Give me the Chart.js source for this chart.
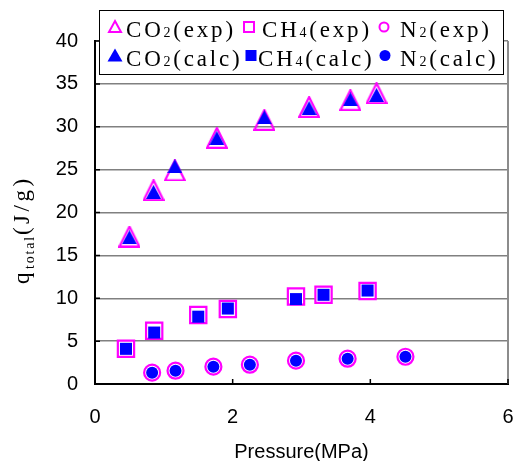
<!DOCTYPE html>
<html>
<head>
<meta charset="utf-8">
<script src="https://cdn.jsdelivr.net/npm/chart.js@4.4.0/dist/chart.umd.min.js"></script>
<style>
html, body { margin: 0; padding: 0; background: #fff; }
</style>
</head>
<body>
<canvas id="canvas-chart" width="513" height="461"></canvas>
<script>
// pressure (MPa) and heat q_total (J/g)
const co2_p = [0.50, 0.85, 1.16, 1.77, 2.46, 3.11, 3.71, 4.09];
const co2_exp = [17.2, 22.6, 24.9, 28.7, 30.8, 32.3, 33.1, 33.9];
const co2_calc = [17.1, 22.4, 25.4, 28.7, 31.1, 32.2, 33.2, 33.7];

const ch4_p = [0.45, 0.86, 1.50, 1.93, 2.92, 3.32, 3.96];
const ch4_exp = [4.1, 6.2, 8.05, 8.75, 10.2, 10.4, 10.85];
const ch4_calc = [4.1, 6.0, 7.85, 8.8, 9.9, 10.4, 10.9];

const n2_p = [0.83, 1.17, 1.72, 2.25, 2.92, 3.67, 4.51];
const n2_exp = [1.32, 1.55, 2.02, 2.25, 2.72, 2.95, 3.18];
const n2_calc = [1.32, 1.55, 2.02, 2.25, 2.72, 2.95, 3.18];

const x_ticks = [0, 2, 4, 6];
const y_ticks = [0, 5, 10, 15, 20, 25, 30, 35, 40];

const gas_names = [['CO', '2'], ['CH', '4'], ['N', '2']];
const kind_names = ['(exp)', '(calc)'];
const x_title = 'Pressure(MPa)';
const y_title = [['q', false], ['total', true], ['(J/g)', false]];

const MAGENTA = '#ff00ff';
const BLUE = '#0000ff';
const SERIF = '"Liberation Serif", "Times New Roman", serif';
const SANS = '"Liberation Sans", Arial, sans-serif';
const PLOT_RIGHT = 508;

function pts(xs, ys) {
    return xs.map((x, i) => ({x: x, y: ys[i]}));
}

// excel-like triangles (centered on the box, not the circumcircle)
function tri_img(w, h, fill, stroke, lw) {
    let c = document.createElement('canvas');
    c.width = w;
    c.height = h;
    let ctx = c.getContext('2d');
    let m = lw / 2;
    ctx.beginPath();
    ctx.moveTo(w / 2, m);
    ctx.lineTo(w - m, h - m);
    ctx.lineTo(m, h - m);
    ctx.closePath();
    if (fill) {
        ctx.fillStyle = fill;
        ctx.fill();
    }
    if (stroke) {
        ctx.strokeStyle = stroke;
        ctx.lineWidth = lw;
        ctx.lineJoin = 'miter';
        ctx.stroke();
    }
    return c;
}

const tri_exp = tri_img(22, 22, null, MAGENTA, 2.2);
const tri_calc = tri_img(15, 14, BLUE, null, 0);

function draw_rich(ctx, parts, x, y, size, sub_size, sub_drop, spacing, sub_spacing) {
    ctx.textAlign = 'left';
    ctx.textBaseline = 'alphabetic';
    for (const [txt, sub] of parts) {
        ctx.font = (sub ? sub_size : size) + 'px ' + SERIF;
        for (const ch of txt) {
            ctx.fillText(ch, x, y + (sub ? sub_drop : 0));
            x += ctx.measureText(ch).width + (sub ? sub_spacing : spacing);
        }
    }
}

function legend_marker(ctx, gas, kind, x, y) {
    ctx.save();
    ctx.lineWidth = 2;
    ctx.strokeStyle = MAGENTA;
    ctx.fillStyle = BLUE;
    if (gas === 0) {
        ctx.beginPath();
        if (kind === 0) {
            ctx.moveTo(x, y - 6); ctx.lineTo(x + 6, y + 5); ctx.lineTo(x - 6, y + 5);
            ctx.closePath(); ctx.stroke();
        } else {
            ctx.moveTo(x, y - 7); ctx.lineTo(x + 7.5, y + 6); ctx.lineTo(x - 7.5, y + 6);
            ctx.closePath(); ctx.fill();
        }
    } else if (gas === 1) {
        if (kind === 0) ctx.strokeRect(x - 5, y - 5, 10, 10);
        else ctx.fillRect(x - 5.5, y - 5.5, 11, 11);
    } else {
        ctx.beginPath();
        ctx.arc(x, y, kind === 0 ? 4.5 : 5.5, 0, Math.PI * 2);
        if (kind === 0) ctx.stroke(); else ctx.fill();
    }
    ctx.restore();
}

const extras = {
    id: 'extras',
    // the layout keeps a margin on the right for the last label; stretch the plot to the frame
    afterLayout(chart) {
        let a = chart.chartArea;
        let xs = chart.scales.x;
        a.right = PLOT_RIGHT;
        a.width = a.right - a.left;
        xs.right = PLOT_RIGHT;
        xs.width = xs.right - xs.left;
        xs.configure();
    },
    beforeDatasetsDraw(chart) {
        let ctx = chart.ctx;
        let a = chart.chartArea;
        let xs = chart.scales.x;
        let ys = chart.scales.y;
        ctx.save();
        // right frame line
        ctx.strokeStyle = '#8c8c8c';
        ctx.lineWidth = 2;
        ctx.beginPath();
        ctx.moveTo(a.right, a.top);
        ctx.lineTo(a.right, a.bottom);
        ctx.stroke();
        // inward tick marks
        ctx.strokeStyle = '#000';
        ctx.lineWidth = 1.5;
        ctx.beginPath();
        for (const v of x_ticks) {
            let px = xs.getPixelForValue(v);
            ctx.moveTo(px, a.bottom);
            ctx.lineTo(px, a.bottom - 5);
        }
        for (const v of y_ticks) {
            let py = ys.getPixelForValue(v);
            ctx.moveTo(a.left, py);
            ctx.lineTo(a.left + 5, py);
        }
        ctx.stroke();
        ctx.restore();
    },
    afterDraw(chart) {
        let ctx = chart.ctx;
        ctx.save();
        ctx.fillStyle = '#000';
        // y axis title with subscript
        ctx.translate(29, 284);
        ctx.rotate(-Math.PI / 2);
        draw_rich(ctx, y_title, 0, 0, 23, 14, 5, 3.5, 1.8);
        ctx.restore();

        // legend box laid over the top of the plot
        ctx.save();
        ctx.fillStyle = '#fff';
        ctx.fillRect(99, 10, 404, 64);
        ctx.strokeStyle = '#000';
        ctx.lineWidth = 1;
        ctx.strokeRect(99.5, 10.5, 404, 64);
        const mark_x = [[115, 249, 384], [115, 251, 385]];
        const text_x = [[126, 262, 400], [126, 258, 400]];
        const mark_y = [27, 55.5];
        const base_y = [37, 66];
        for (let k = 0; k < 2; k++) {
            for (let g = 0; g < 3; g++) {
                legend_marker(ctx, g, k, mark_x[k][g], mark_y[k]);
                ctx.fillStyle = '#000';
                draw_rich(ctx, [[gas_names[g][0], false], [gas_names[g][1], true], [kind_names[k], false]],
                    text_x[k][g], base_y[k], 23, 14, 0, 2.8, 2.8);
            }
        }
        ctx.restore();
    }
};

let chart_data = {
    datasets: [
        {label: 'CO2(calc)', data: pts(co2_p, co2_calc), pointStyle: tri_calc, pointRadius: 8},
        {label: 'CH4(calc)', data: pts(ch4_p, ch4_calc), pointStyle: 'rect', pointRadius: 8.5,
            backgroundColor: BLUE, borderColor: BLUE, borderWidth: 0},
        {label: 'N2(calc)', data: pts(n2_p, n2_calc), pointStyle: 'circle', pointRadius: 6,
            backgroundColor: BLUE, borderColor: BLUE, borderWidth: 0},
        {label: 'CO2(exp)', data: pts(co2_p, co2_exp), pointStyle: tri_exp, pointRadius: 11},
        {label: 'CH4(exp)', data: pts(ch4_p, ch4_exp), pointStyle: 'rect', pointRadius: 11.5,
            backgroundColor: '#fff', borderColor: MAGENTA, borderWidth: 2.2},
        {label: 'N2(exp)', data: pts(n2_p, n2_exp), pointStyle: 'circle', pointRadius: 8,
            backgroundColor: '#fff', borderColor: MAGENTA, borderWidth: 2.2}
    ]
};

let option = {
    responsive: false,
    animation: false,
    devicePixelRatio: 1,
    layout: {padding: {top: 41, right: 5, left: 0, bottom: 0}},
    plugins: {legend: {display: false}, tooltip: {enabled: false}},
    scales: {
        x: {
            type: 'linear',
            min: 0,
            max: 6,
            afterFit: s => { s.height = 77; },
            afterBuildTicks: s => { s.ticks = x_ticks.map(v => ({value: v})); },
            ticks: {color: '#000', font: {family: SANS, size: 20}, padding: 0},
            // invisible tick marks only push the labels down
            grid: {display: true, drawOnChartArea: false, drawTicks: true, tickLength: 21,
                tickColor: 'rgba(0,0,0,0)'},
            border: {display: true, color: '#000', width: 2},
            title: {display: true, text: x_title, color: '#000',
                font: {family: SANS, size: 20}, padding: {top: 0, bottom: -3}}
        },
        y: {
            min: 0,
            max: 40,
            afterFit: s => { s.width = 95; },
            afterBuildTicks: s => { s.ticks = y_ticks.map(v => ({value: v})); },
            ticks: {color: '#000', font: {family: SANS, size: 20}, padding: 17},
            grid: {color: '#808080', lineWidth: 1.5, drawTicks: false},
            border: {display: true, color: '#000', width: 2}
        }
    }
};

let scatter_chart = new Chart(document.getElementById('canvas-chart').getContext('2d'), {
    type: 'scatter',
    data: chart_data,
    options: option,
    plugins: [extras]
});
</script>
</body>
</html>
